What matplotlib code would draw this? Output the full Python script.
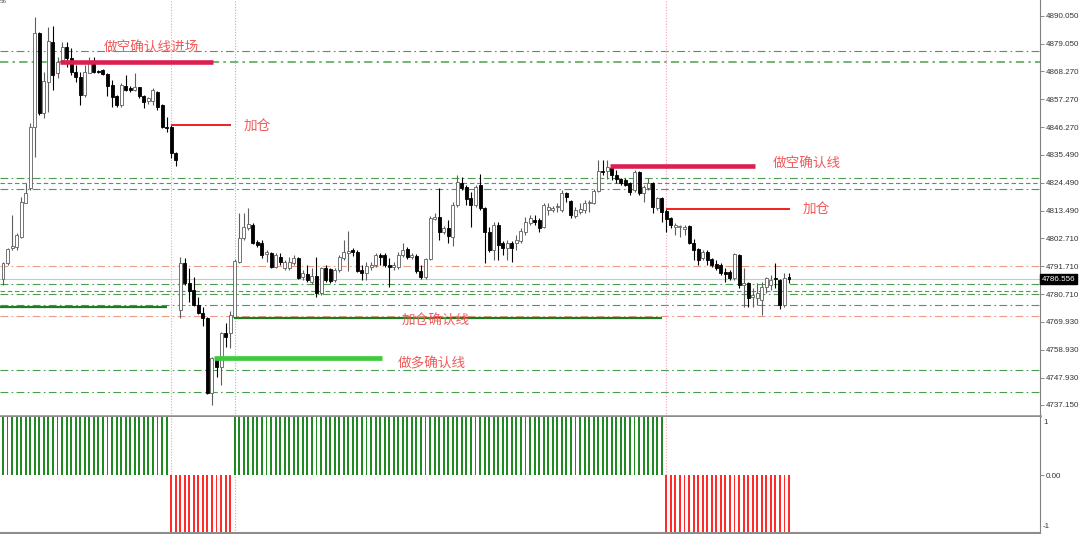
import numpy as np
import matplotlib
matplotlib.use("Agg")
import matplotlib.pyplot as plt
from matplotlib.transforms import blended_transform_factory

plt.rcParams['font.family'] = ['Noto Sans CJK SC', 'DejaVu Sans']

# ---------------- data ----------------
opens = [4786.7, 4793.0, 4798.9, 4799.3, 4803.2, 4816.5, 4822.4, 4846.4, 4883.4, 4851.9,
         4864.1, 4879.8, 4867.6, 4872.8, 4877.9, 4873.6, 4868.0, 4866.1, 4859.0, 4867.6,
         4872.0, 4868.4, 4868.8, 4867.3, 4862.9, 4858.6, 4855.1, 4862.5, 4861.8, 4861.0,
         4862.1, 4858.6, 4856.6, 4856.6, 4860.2, 4855.1, 4846.4, 4846.4, 4836.2, 4774.5,
         4793.0, 4785.1, 4782.3, 4776.4, 4773.3, 4771.3, 4741.8, 4755.2, 4752.1, 4765.4,
         4765.4, 4771.7, 4793.3, 4802.8, 4806.7, 4807.9, 4801.2, 4800.8, 4796.5, 4796.9,
         4791.4, 4795.3, 4791.0, 4791.0, 4793.0, 4794.9, 4787.4, 4788.6, 4785.5, 4787.8,
         4781.2, 4791.0, 4790.6, 4786.3, 4790.2, 4794.9, 4796.9, 4798.1, 4797.3, 4790.2,
         4789.0, 4791.4, 4792.2, 4796.1, 4796.1, 4792.2, 4791.4, 4791.4, 4796.1, 4798.5,
         4795.3, 4795.7, 4789.8, 4787.4, 4794.5, 4810.2, 4811.0, 4805.1, 4806.7, 4803.2,
         4815.8, 4824.4, 4822.8, 4818.5, 4815.8, 4823.6, 4814.6, 4805.1, 4798.1, 4807.9,
         4800.8, 4798.9, 4800.8, 4800.8, 4801.6, 4805.1, 4808.7, 4809.9, 4809.9, 4807.1,
         4813.8, 4813.8, 4815.0, 4813.8, 4820.5, 4817.3, 4811.4, 4813.0, 4813.8, 4816.5,
         4816.5, 4821.3, 4829.1, 4829.1, 4830.3, 4827.5, 4826.0, 4825.6, 4824.4, 4821.7,
         4828.7, 4820.5, 4822.4, 4824.4, 4814.6, 4818.5, 4813.4, 4810.6, 4807.1, 4807.1,
         4806.3, 4807.5, 4800.8, 4798.5, 4794.9, 4797.3, 4794.5, 4792.6, 4792.2, 4789.4,
         4789.4, 4787.1, 4796.1, 4784.3, 4785.1, 4779.6, 4779.2, 4778.4, 4783.5, 4784.3,
         4787.1, 4786.3, 4776.4, 4787.4]
highs = [4793.3, 4798.9, 4811.8, 4804.8, 4818.9, 4824.4, 4848.0, 4889.7, 4883.8, 4868.0,
         4885.7, 4886.1, 4873.9, 4879.8, 4879.8, 4877.5, 4870.8, 4868.0, 4870.8, 4873.9,
         4873.9, 4868.8, 4869.2, 4867.6, 4864.9, 4859.0, 4863.7, 4866.9, 4862.5, 4867.6,
         4862.1, 4859.0, 4858.2, 4861.8, 4860.6, 4855.5, 4850.3, 4847.2, 4836.6, 4795.3,
         4794.9, 4791.0, 4787.4, 4779.6, 4775.7, 4771.7, 4756.0, 4755.6, 4765.8, 4769.4,
         4774.1, 4794.5, 4812.6, 4812.6, 4814.6, 4808.7, 4802.0, 4802.0, 4798.1, 4797.3,
         4796.9, 4796.9, 4794.1, 4795.3, 4796.1, 4795.3, 4790.2, 4792.2, 4791.0, 4795.3,
         4791.4, 4792.2, 4791.0, 4791.0, 4796.1, 4802.0, 4805.5, 4798.9, 4798.1, 4792.2,
         4793.3, 4793.3, 4796.9, 4796.9, 4796.9, 4794.9, 4793.3, 4797.3, 4800.8, 4799.3,
         4796.9, 4796.5, 4792.2, 4794.9, 4811.4, 4812.6, 4822.4, 4807.5, 4809.9, 4816.9,
         4827.5, 4826.8, 4823.6, 4820.9, 4823.6, 4827.9, 4815.0, 4807.1, 4809.1, 4809.1,
         4801.6, 4802.0, 4801.6, 4803.9, 4806.7, 4811.0, 4811.8, 4811.8, 4810.6, 4816.5,
         4816.5, 4815.4, 4816.5, 4821.7, 4820.9, 4817.7, 4815.0, 4816.5, 4817.7, 4817.7,
         4822.0, 4833.4, 4833.4, 4833.4, 4831.5, 4829.5, 4826.4, 4826.4, 4824.8, 4829.5,
         4829.1, 4823.6, 4826.4, 4824.8, 4818.9, 4818.9, 4814.2, 4811.0, 4808.7, 4807.9,
         4807.9, 4807.9, 4802.4, 4798.9, 4798.1, 4798.1, 4794.9, 4794.1, 4793.0, 4791.0,
         4790.2, 4796.9, 4796.5, 4791.0, 4785.5, 4783.1, 4785.1, 4785.5, 4787.4, 4788.2,
         4793.0, 4786.7, 4789.0, 4789.0]
lows = [4784.3, 4792.2, 4798.1, 4798.1, 4802.8, 4816.5, 4821.7, 4834.6, 4851.1, 4850.0,
        4852.3, 4861.0, 4865.7, 4871.6, 4870.0, 4866.9, 4864.1, 4855.1, 4858.2, 4867.6,
        4867.6, 4867.6, 4866.9, 4858.6, 4854.3, 4854.3, 4854.3, 4860.6, 4860.2, 4860.6,
        4857.8, 4853.9, 4855.5, 4855.1, 4853.1, 4846.0, 4844.5, 4834.2, 4831.1, 4771.3,
        4784.3, 4777.6, 4776.0, 4772.9, 4768.2, 4741.5, 4737.1, 4748.1, 4745.0, 4759.9,
        4759.5, 4771.3, 4793.0, 4802.0, 4805.9, 4800.4, 4799.3, 4794.9, 4793.3, 4791.0,
        4791.0, 4792.2, 4790.2, 4790.2, 4792.2, 4786.7, 4786.3, 4785.5, 4784.7, 4779.6,
        4780.4, 4785.5, 4785.1, 4785.5, 4789.4, 4794.1, 4789.8, 4795.7, 4789.4, 4786.3,
        4786.3, 4790.2, 4791.4, 4792.2, 4791.4, 4783.5, 4790.2, 4790.6, 4795.3, 4794.5,
        4794.5, 4789.0, 4786.7, 4786.7, 4794.1, 4809.9, 4802.0, 4804.3, 4800.8, 4799.6,
        4815.0, 4821.7, 4815.8, 4807.1, 4815.0, 4813.8, 4793.0, 4797.3, 4794.1, 4794.1,
        4796.1, 4794.1, 4793.3, 4798.1, 4800.8, 4804.0, 4807.9, 4807.9, 4805.1, 4806.7,
        4811.8, 4813.0, 4813.0, 4813.0, 4816.9, 4810.6, 4810.6, 4812.2, 4812.6, 4813.0,
        4816.1, 4820.9, 4827.5, 4826.0, 4825.6, 4824.4, 4823.6, 4823.2, 4819.7, 4820.9,
        4819.7, 4816.9, 4821.7, 4812.6, 4813.8, 4809.1, 4805.1, 4806.7, 4804.0, 4803.2,
        4804.0, 4800.4, 4794.1, 4792.2, 4794.1, 4792.2, 4791.4, 4790.2, 4788.2, 4785.5,
        4786.3, 4786.3, 4783.1, 4775.7, 4775.7, 4775.7, 4776.4, 4772.5, 4781.2, 4782.3,
        4783.1, 4774.9, 4775.7, 4785.1]
closes = [4793.0, 4798.5, 4799.6, 4804.0, 4816.9, 4820.5, 4846.4, 4883.4, 4851.9, 4864.5,
          4880.2, 4866.9, 4872.0, 4877.9, 4873.6, 4868.0, 4866.1, 4859.0, 4868.0, 4871.6,
          4868.0, 4868.0, 4867.3, 4862.5, 4858.2, 4855.1, 4862.9, 4861.0, 4861.0, 4862.1,
          4858.6, 4856.2, 4857.8, 4861.0, 4854.3, 4846.4, 4846.0, 4836.2, 4833.4, 4793.0,
          4785.1, 4781.9, 4776.4, 4773.3, 4771.3, 4741.8, 4755.6, 4752.1, 4765.4, 4763.9,
          4772.5, 4793.7, 4802.8, 4807.1, 4808.3, 4800.8, 4800.0, 4796.1, 4797.3, 4791.4,
          4796.1, 4793.3, 4793.3, 4793.3, 4794.9, 4787.1, 4789.0, 4786.3, 4787.8, 4781.2,
          4791.0, 4786.3, 4785.9, 4790.2, 4795.3, 4797.3, 4797.7, 4797.3, 4789.8, 4789.0,
          4791.8, 4792.2, 4796.1, 4795.3, 4792.2, 4791.4, 4792.2, 4796.1, 4798.1, 4795.3,
          4796.1, 4789.8, 4787.4, 4794.5, 4810.6, 4811.0, 4805.1, 4806.7, 4803.6, 4815.8,
          4824.8, 4822.4, 4818.1, 4815.8, 4822.8, 4814.6, 4805.1, 4798.1, 4807.9, 4800.0,
          4798.9, 4800.8, 4798.9, 4802.0, 4805.5, 4809.1, 4810.6, 4809.1, 4806.7, 4815.8,
          4815.0, 4814.6, 4815.4, 4820.5, 4818.9, 4811.8, 4813.8, 4814.2, 4816.5, 4816.9,
          4821.3, 4829.1, 4828.7, 4830.7, 4827.5, 4826.0, 4824.4, 4823.6, 4820.9, 4828.7,
          4820.5, 4822.8, 4824.4, 4815.0, 4818.5, 4813.0, 4810.2, 4807.9, 4807.9, 4807.5,
          4807.1, 4800.8, 4798.1, 4794.1, 4797.3, 4794.1, 4792.2, 4791.0, 4789.0, 4788.6,
          4787.1, 4796.5, 4784.3, 4785.1, 4779.2, 4780.4, 4781.2, 4783.5, 4787.1, 4786.3,
          4786.7, 4776.4, 4787.1, 4786.6]

price_ticks = [4890.050, 4879.050, 4868.270, 4857.270, 4846.270, 4835.490, 4824.490,
               4813.490, 4802.710, 4791.710, 4780.710, 4769.930, 4758.930, 4747.930, 4737.150]
current_price = 4786.556

green_levels = [4876.4, 4826.5, 4822.0, 4784.5, 4780.8, 4776.6, 4750.9, 4742.1]
green_levels_dashed = [4824.3, 4781.8]
green_level_bold = 4872.1
red_levels = [4791.71, 4772.1]
vline_bars = [37, 51, 146]
vline_colors = ['#f0a0b8', '#6cc8f0', '#f0a0b8']

# indicator: runs of (value, number of bars)
signal_runs = [(1, 37), (-1, 14), (1, 95), (-1, 28)]

# annotation segments: (start bar, end bar, price)
seg_short_entry = (12.5, 46.3, 4872.1)
seg_add1 = (37.0, 50.1, 4847.2)
seg_green_left = (-1.0, 36.1, 4775.7)
seg_add_confirm = (50.8, 145.0, 4771.3)
seg_long_confirm = (46.5, 83.5, 4755.7)
seg_short_confirm = (133.6, 165.5, 4831.1)
seg_add2 = (145.9, 173.2, 4814.2)

labels = ['做空确认线进场', '加仓', '加仓确认线', '做多确认线', '做空确认线', '加仓']
label_x = [22.2, 52.9, 87.8, 86.9, 169.5, 176.1]
label_y = [4877.6, 4846.5, 4770.2, 4753.6, 4831.9, 4813.8]

# ---------------- layout ----------------
W, H = 1080, 534
fig = plt.figure(figsize=(W / 100, H / 100), dpi=100)
plot_right = 1040
main_bot = 416
ind_top, ind_bot = 417, 533
ax = fig.add_axes([0, 1 - main_bot / H, plot_right / W, main_bot / H])
axi = fig.add_axes([0, 1 - ind_bot / H, plot_right / W, (ind_bot - ind_top) / H])

o = np.array(opens); h = np.array(highs); l = np.array(lows); c = np.array(closes)
n = len(o)
x = np.arange(n)
px_per_bar = (789 - 3) / (n - 1)
xmin = -3 / px_per_bar
xmax = xmin + plot_right / px_per_bar

# ---------------- main pane ----------------
gcol = '#4a9e4a'
for lv in green_levels:
    ax.axhline(lv, color=gcol, lw=0.8, ls=(0, (7, 3, 1.5, 3)), zorder=1)
for lv in green_levels_dashed:
    ax.axhline(lv, color=gcol, lw=0.8, ls=(0, (4, 2.5)), zorder=1)
ax.axhline(green_level_bold, color='#5aaa5a', lw=1.2, ls=(0, (5, 2.5, 1.5, 2.5)), zorder=1)
for lv in red_levels:
    ax.axhline(lv, color='#ec9c84', lw=0.8, ls=(0, (7, 3, 1.5, 3)), zorder=1)
ax.axhline(current_price, color='#c8c8c8', lw=0.8, zorder=1)

for vb, vc in zip(vline_bars, vline_colors):
    ax.axvline(vb, color=vc, lw=0.8, ls=(0, (1, 1.5)), zorder=1)
    axi.axvline(vb, color=vc, lw=0.8, ls=(0, (1, 1.5)), zorder=1)

up = c >= o
wlo = np.minimum(l, np.minimum(o, c))
whi = np.maximum(h, np.maximum(o, c))
ax.vlines(x[up], wlo[up], whi[up], color='#5e5e5e', lw=0.8, zorder=2)
ax.vlines(x[~up], wlo[~up], whi[~up], color='#000000', lw=0.8, zorder=2)
body = np.maximum(np.abs(c - o), 0.35)
bottom = np.minimum(o, c)
bw = 0.66
ax.bar(x[up], body[up], bottom=bottom[up], width=bw, color='white',
       edgecolor='#5e5e5e', linewidth=0.6, zorder=3)
ax.bar(x[~up], body[~up], bottom=bottom[~up], width=bw, color='black',
       edgecolor='black', linewidth=0.6, zorder=3)

def seg(s, color, lw):
    ax.plot([s[0], s[1]], [s[2], s[2]], color=color, lw=lw, solid_capstyle='butt', zorder=4)

seg(seg_short_entry, '#dc1e50', 3.3)
seg(seg_short_confirm, '#dc1e50', 3.3)
seg(seg_add1, '#ee2020', 1.4)
seg(seg_add2, '#ee2020', 1.4)
seg(seg_green_left, '#1d7d1d', 1.6)
seg(seg_add_confirm, '#1d7d1d', 1.6)
seg(seg_long_confirm, '#3dcc3d', 3.4)

for t, tx, ty in zip(labels, label_x, label_y):
    ax.text(tx, ty, t, color='#f05a5a', fontsize=9.8, va='center', ha='left', zorder=5)

ax.set_xlim(xmin, xmax)
ax.set_ylim(4896.34 - 416 * 0.39313, 4896.34)
ax.yaxis.tick_right()
ax.set_yticks(price_ticks)
ax.set_yticklabels([f'{t:.3f}' for t in price_ticks], fontsize=5.8,
                   family='Liberation Sans', color='#333333')
ax.tick_params(axis='y', length=3, width=0.6, color='#777777', pad=1.5)
ax.set_xticks([])
for side in ['top', 'left']:
    ax.spines[side].set_visible(False)
ax.spines['right'].set_color('#808080')
ax.spines['right'].set_linewidth(0.8)
ax.spines['bottom'].set_color('#8c8c8c')
ax.spines['bottom'].set_linewidth(1.8)

tr = blended_transform_factory(ax.transAxes, ax.transData)
ax.text(1.0 + 1.5 / plot_right, current_price, f'{current_price:.3f}', transform=tr,
        ha='left', va='center', fontsize=5.8, family='Liberation Sans', color='white',
        bbox=dict(boxstyle='square,pad=0.2', fc='black', ec='black'), zorder=6, clip_on=False)

fig.text(0.0, 1 - 1.5 / H, '56', fontsize=4.5, color='#555555', ha='left', va='center',
         family='Liberation Sans')

# ---------------- indicator pane ----------------
signal = np.concatenate([np.full(cnt, val, dtype=float) for val, cnt in signal_runs])
cols = np.where(signal > 0, '#1f8a1f', '#ff2a2a')
axi.bar(x, signal, width=0.42, color=cols, zorder=2)
axi.set_xlim(xmin, xmax)
axi.set_ylim(-1.0, 1.0)
axi.set_xticks([])
axi.yaxis.tick_right()
axi.set_yticks([0])
axi.set_yticklabels(['0.00'], fontsize=5.8, family='Liberation Sans', color='#333333')
axi.tick_params(axis='y', length=3, width=0.6, color='#777777', pad=1.5)
for side in ['top', 'left']:
    axi.spines[side].set_visible(False)
axi.spines['right'].set_color('#808080')
axi.spines['right'].set_linewidth(0.8)
axi.spines['bottom'].set_color('#8c8c8c')
axi.spines['bottom'].set_linewidth(1.5)

fig.text(1043 / W, 1 - 422 / H, '1', fontsize=5.8, family='Liberation Sans',
         color='#333333', ha='left', va='center')
fig.text(1043 / W, 1 - 527 / H, '-1', fontsize=5.8, family='Liberation Sans',
         color='#333333', ha='left', va='center')

fig.savefig('out.png', dpi=100, facecolor='white')
